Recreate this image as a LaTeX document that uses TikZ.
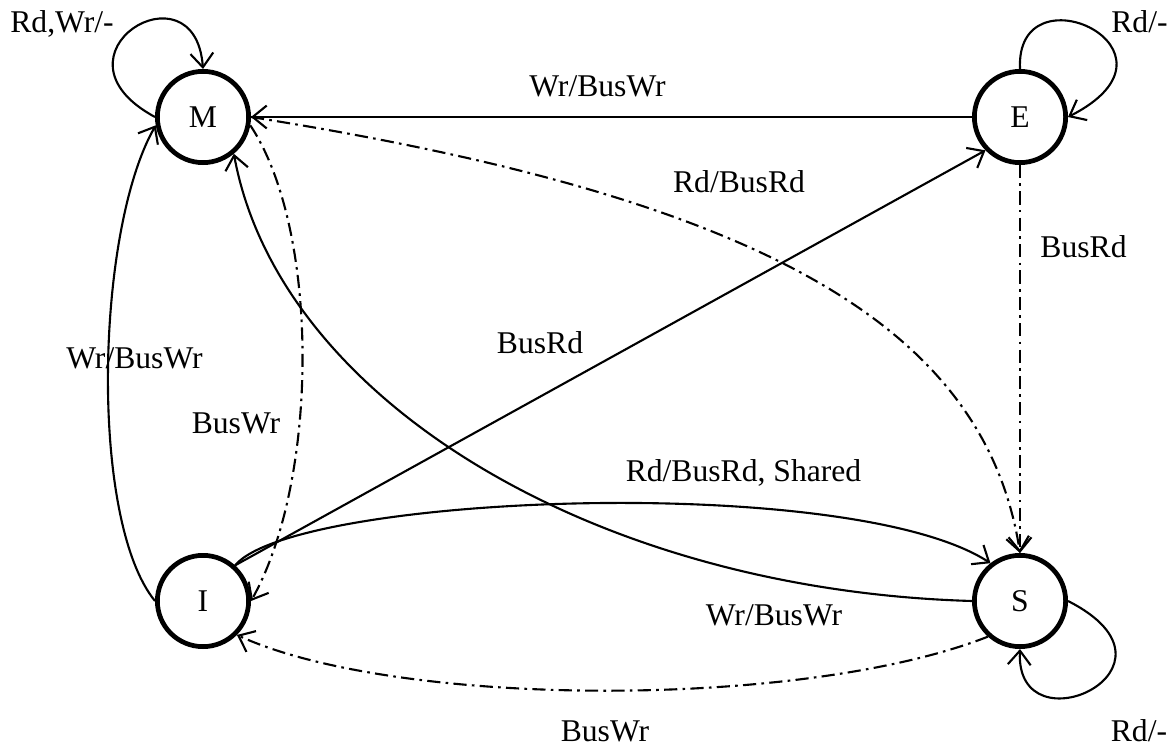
\documentclass[tikz,border=0pt]{standalone}
\usepackage{fontspec}
\setmainfont{Liberation Serif}
\usetikzlibrary{arrows.meta}

\begin{document}
\begin{tikzpicture}[
       font=\fontsize{18}{22}\selectfont,
       fleche/.style={
         line width=1.2pt,
         -{Straight Barb[length=8pt,width=13pt]}
       },
       tiret/.style={
         dash pattern=on 7.5pt off 3pt on 1.5pt off 3pt
       },
       etat/.style={
         circle,
         draw,
         line width=2.7pt,
         inner sep=0pt,
         minimum size=1.825cm
       },
       texte/.style={
         anchor=base,
         inner sep=0pt
       }
     ]
       \useasboundingbox (0,0) rectangle (23.5,14.94);

       \node (M) at (4.06,12.6) [etat]{M};
       \node (E) at (20.4,12.6) [etat]{E};
       \node (I) at (4.06,2.92) [etat]{I};
       \node (S) at (20.4,2.92) [etat]{S};

       % boucles
       \draw[fleche] (M.180) .. controls +(-2.3,1.24) and +(-0.16,2.18) .. (M.90);
       \draw[fleche] (E.90) .. controls +(-0.1,2.08) and +(2.64,1.34) .. (E.0);
       \draw[fleche] (S.0) .. controls +(2.64,-1.34) and +(-0.1,-2.08) .. (S.270);

       % transitions
       \draw[fleche] (E) -- (M);
       \draw[fleche] (I.48) -- (E.224);
       \draw[fleche,tiret] (E) -- (S);
       \draw[fleche,tiret] (M.0) .. controls +(9.96,-1.58) and +(-0.72,4.66) .. (S.90);
       \draw[fleche] (S.180) .. controls +(-7.6,0.22) and +(0.9,-4.9) .. (M.-50);
       \draw[fleche] (I.48) .. controls +(1.18,1.42) and +(-2.8,1.82) .. (S.128);
       \draw[fleche] (I.180) .. controls +(-1.32,1.62) and +(-1.2,-2.1) .. (M.190);
       \draw[fleche,tiret] (M.-10) .. controls +(1.4,-2.1) and +(1.36,2.42) .. (I.0);
       \draw[fleche,tiret] (S.228) .. controls +(-3.72,-1.46) and +(3.18,-1.46) .. (I.-45);

       % etiquettes
       \node (t1) at (1.24,14.28) [texte]{Rd,Wr/-};
       \node (t2) at (22.79,14.28) [texte]{Rd/-};
       \node (t3) at (11.95,13.0) [texte]{Wr/BusWr};
       \node (t4) at (14.78,11.08) [texte]{Rd/BusRd};
       \node (t5) at (21.67,9.8) [texte]{BusRd};
       \node (t6) at (10.8,7.88) [texte]{BusRd};
       \node (t7) at (2.69,7.58) [texte]{Wr/BusWr};
       \node (t8) at (4.72,6.28) [texte]{BusWr};
       \node (t9) at (14.87,5.32) [texte]{Rd/BusRd, Shared};
       \node (t10) at (15.48,2.44) [texte]{Wr/BusWr};
       \node (t11) at (12.1,0.12) [texte]{BusWr};
       \node (t12) at (22.78,0.12) [texte]{Rd/-};

\end{tikzpicture}
\end{document}
